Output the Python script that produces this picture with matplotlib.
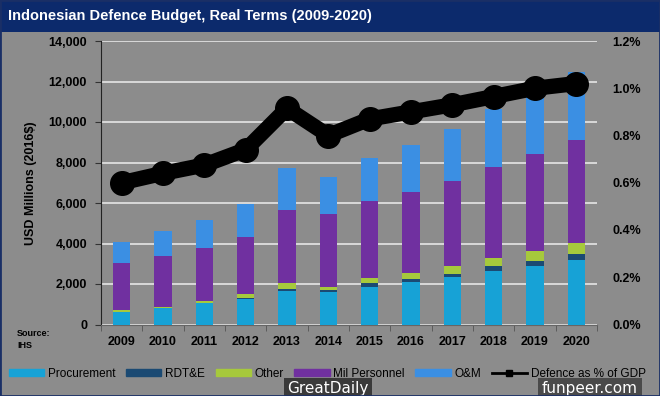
import numpy as np
import matplotlib.pyplot as plt
from matplotlib.lines import Line2D
from matplotlib.patches import Patch, Rectangle
from matplotlib.ticker import FuncFormatter

plt.rcParams['font.family'] = ['Liberation Sans', 'DejaVu Sans']

# Datos (USD millones, 2016$)
years = ['2009', '2010', '2011', '2012', '2013', '2014', '2015', '2016', '2017', '2018', '2019', '2020']
procurement = [620, 800, 1040, 1270, 1650, 1600, 1870, 2080, 2330, 2650, 2900, 3190]
rdte = [20, 20, 20, 20, 120, 120, 170, 170, 180, 230, 250, 300]
other = [90, 60, 120, 200, 300, 150, 260, 300, 400, 420, 480, 530]
mil_personnel = [2300, 2520, 2620, 2850, 3600, 3580, 3800, 4000, 4190, 4490, 4810, 5110]
om = [1020, 1240, 1355, 1600, 2060, 1850, 2140, 2320, 2570, 2850, 3070, 3330]
gdp_pct = [0.60, 0.64, 0.675, 0.74, 0.915, 0.80, 0.87, 0.90, 0.93, 0.965, 1.00, 1.02]

series = [
    ('Procurement', procurement, '#17a2d6'),
    ('RDT&E', rdte, '#1b4a73'),
    ('Other', other, '#a6c93c'),
    ('Mil Personnel', mil_personnel, '#7030a0'),
    ('O&M', om, '#3b8fe3'),
]

bg = '#8c8c8c'
fig = plt.figure(figsize=(6.6, 3.96), dpi=100, facecolor=bg)

# Barra del titulo
fig.patches.append(Rectangle((0, 1 - 32 / 396), 1, 32 / 396, transform=fig.transFigure,
                             facecolor='#0c2a6c', edgecolor='none', zorder=0))
fig.patches.append(Rectangle((0, 0), 1, 1, transform=fig.transFigure,
                             facecolor='none', edgecolor='#1a2f66', linewidth=2, zorder=5))
fig.text(0.012, 1 - 16 / 396, 'Indonesian Defence Budget, Real Terms (2009-2020)',
         color='white', fontsize=10.5, fontweight='bold', va='center', ha='left')

ax = fig.add_axes([101 / 660, 1 - 324.5 / 396, 496 / 660, 283.5 / 396])
ax.set_facecolor(bg)
x = np.arange(len(years))
bottom = np.zeros(len(years))
for name, vals, col in series:
    ax.bar(x, vals, 0.42, bottom=bottom, color=col, zorder=3, label=name)
    bottom += np.array(vals)

ax.set_xlim(-0.5, len(years) - 0.5)
ax.set_ylim(0, 14000)
ax.set_yticks(np.arange(0, 14001, 2000))
ax.yaxis.set_major_formatter(FuncFormatter(lambda v, p: f'{int(v):,}'))
ax.grid(axis='y', color='#e6e6e6', linewidth=1.2, zorder=0)
ax.set_xticks(x)
ax.set_xticklabels(years)
ax.set_xticks(np.arange(-0.5, len(years), 1), minor=True)
ax.tick_params(axis='x', which='major', length=0, pad=8)
ax.tick_params(axis='x', which='minor', length=4, color='#555555')
ax.tick_params(axis='y', length=4, color='#333333', pad=6)
for lab in ax.get_xticklabels() + ax.get_yticklabels():
    lab.set_fontweight('bold')
    lab.set_fontsize(9)
for s in ['top', 'right']:
    ax.spines[s].set_visible(False)
ax.spines['left'].set_color('#222222')
ax.spines['bottom'].set_color('#666666')
ax.set_ylabel('USD Millions (2016$)', fontsize=9, fontweight='bold', labelpad=8)

ax2 = ax.twinx()
ax2.plot(x, gdp_pct, color='black', linewidth=11, marker='o', markersize=17,
         solid_joinstyle='round', solid_capstyle='round', zorder=4)
ax2.plot(x[-1], gdp_pct[-1], marker='s', color='black', markersize=9, zorder=5)
ax2.set_ylim(0, 1.2)
ax2.set_yticks(np.arange(0, 1.21, 0.2))
ax2.yaxis.set_major_formatter(FuncFormatter(lambda v, p: f'{v:.1f}%'))
ax2.tick_params(axis='y', length=0, pad=11)
for lab in ax2.get_yticklabels():
    lab.set_fontweight('bold')
    lab.set_fontsize(9)
for s in ['top', 'right', 'left', 'bottom']:
    ax2.spines[s].set_visible(False)

fig.text(17 / 660, 1 - 333 / 396, 'Source:', fontsize=6.5, fontweight='bold', va='center')
fig.text(17 / 660, 1 - 345 / 396, 'IHS', fontsize=6.5, fontweight='bold', va='center')

handles = [Patch(color=c, label=n) for n, v, c in series]
handles.append(Line2D([0], [0], color='black', linewidth=2, marker='s', markersize=5,
                      label='Defence as % of GDP'))
fig.legend(handles=handles, loc='center', bbox_to_anchor=(0.496, 1 - 374 / 396), ncol=6,
           frameon=False, fontsize=8.5, handlelength=3.0, handleheight=0.55,
           columnspacing=0.9, handletextpad=0.3, borderpad=0, borderaxespad=0)

fig.text(328 / 660, 1 - 389 / 396, 'GreatDaily', color='white', fontsize=11, ha='center',
         va='center', family='DejaVu Sans',
         bbox=dict(facecolor='#3a3a3a', edgecolor='none', pad=2.5))
fig.text(590 / 660, 1 - 389 / 396, 'funpeer.com', color='white', fontsize=11, ha='center',
         va='center', family='DejaVu Sans',
         bbox=dict(facecolor='#4a4a4a', edgecolor='none', pad=2.5))

fig.savefig('out.png', dpi=100, facecolor=bg)
